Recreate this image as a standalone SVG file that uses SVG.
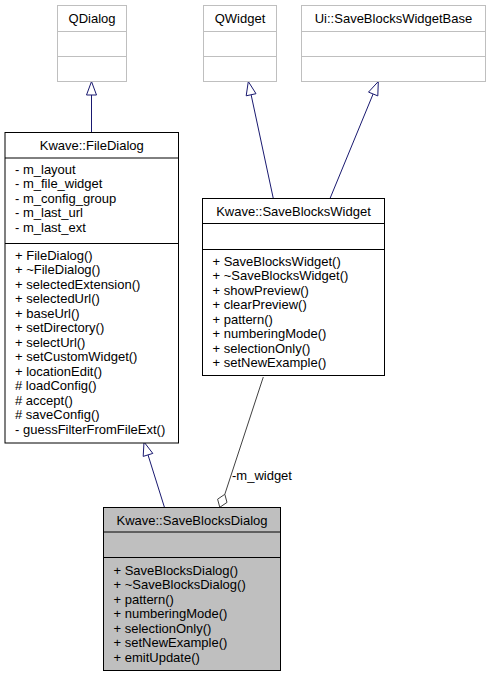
<svg xmlns="http://www.w3.org/2000/svg" width="491" height="677" viewBox="0 0 491 677">
<style>
text{font-family:"Liberation Sans",Arial,sans-serif;font-size:13px;fill:#000}
.t{text-anchor:middle}
.base{fill:#fff;stroke:#bfbfbf;stroke-width:1}
.cls{fill:#fff;stroke:#000;stroke-width:1}
.cur{fill:#bfbfbf;stroke:#000;stroke-width:1}
.inh{fill:none;stroke:#191970;stroke-width:1}
.inhhead{fill:#fff;stroke:#191970;stroke-width:1}
.agg{fill:none;stroke:#404040;stroke-width:1}
.agghead{fill:#fff;stroke:#404040;stroke-width:1}
</style>
<rect width="491" height="677" fill="#fff"/>
<g id="edges">
  <path class="inh" d="M91.5,132.5 L91.5,95"/>
  <polygon class="inhhead" points="91.5,81.5 86.5,95 96.5,95"/>
  <path class="inh" d="M273.3,198.5 L251.1,94.7"/>
  <polygon class="inhhead" points="248.3,81.5 256,93.7 246.2,95.8"/>
  <path class="inh" d="M330,198.5 L373.1,94"/>
  <polygon class="inhhead" points="378.3,81.5 377.8,95.9 368.5,92.1"/>
  <path class="inh" d="M164.5,507.5 L148,454.9"/>
  <polygon class="inhhead" points="144,442 152.8,453.4 143.2,456.4"/>
  <path class="agg" d="M263.3,377 L224.8,494.3"/>
  <polygon class="agghead" points="219.8,507.3 217.6,499.2 224.8,494.3 227,502.4"/>
  <text x="232" y="479.5">-m_widget</text>
</g>
<g id="QDialog">
  <rect class="base" x="57.5" y="5.5" width="69" height="76"/>
  <path class="base" d="M57.5,31.5 H126.5 M57.5,56.5 H126.5"/>
  <text class="t" x="92" y="23">QDialog</text>
</g>
<g id="QWidget">
  <rect class="base" x="203.5" y="5.5" width="73" height="76"/>
  <path class="base" d="M203.5,31.5 H276.5 M203.5,56.5 H276.5"/>
  <text class="t" x="240" y="23">QWidget</text>
</g>
<g id="SaveBlocksWidgetBase">
  <rect class="base" x="301.5" y="5.5" width="184" height="76"/>
  <path class="base" d="M301.5,31.5 H485.5 M301.5,56.5 H485.5"/>
  <text class="t" x="393.5" y="23">Ui::SaveBlocksWidgetBase</text>
</g>
<g id="FileDialog">
  <rect class="cls" x="5" y="132.5" width="173.5" height="310.5"/>
  <path class="cls" d="M5,158 H178.5 M5,243.5 H178.5"/>
  <text class="t" x="91.75" y="149.5">Kwave::FileDialog</text>
  <text x="15" y="173.5">- m_layout</text>
  <text x="15" y="188">- m_file_widget</text>
  <text x="15" y="202.5">- m_config_group</text>
  <text x="15" y="217">- m_last_url</text>
  <text x="15" y="231.5">- m_last_ext</text>
  <text x="15" y="259.5">+ FileDialog()</text>
  <text x="15" y="274">+ ~FileDialog()</text>
  <text x="15" y="288.5">+ selectedExtension()</text>
  <text x="15" y="303">+ selectedUrl()</text>
  <text x="15" y="317.5">+ baseUrl()</text>
  <text x="15" y="332">+ setDirectory()</text>
  <text x="15" y="346.5">+ selectUrl()</text>
  <text x="15" y="361">+ setCustomWidget()</text>
  <text x="15" y="375.5">+ locationEdit()</text>
  <text x="15" y="390"># loadConfig()</text>
  <text x="15" y="404.5"># accept()</text>
  <text x="15" y="419"># saveConfig()</text>
  <text x="15" y="433.5">- guessFilterFromFileExt()</text>
</g>
<g id="SaveBlocksWidget">
  <rect class="cls" x="202.5" y="198.5" width="182" height="177"/>
  <path class="cls" d="M202.5,223.5 H384.5 M202.5,249.5 H384.5"/>
  <text class="t" x="293.5" y="215.5">Kwave::SaveBlocksWidget</text>
  <text x="212.5" y="265.5">+ SaveBlocksWidget()</text>
  <text x="212.5" y="280">+ ~SaveBlocksWidget()</text>
  <text x="212.5" y="294.5">+ showPreview()</text>
  <text x="212.5" y="309">+ clearPreview()</text>
  <text x="212.5" y="323.5">+ pattern()</text>
  <text x="212.5" y="338">+ numberingMode()</text>
  <text x="212.5" y="352.5">+ selectionOnly()</text>
  <text x="212.5" y="367">+ setNewExample()</text>
</g>
<g id="SaveBlocksDialog">
  <rect class="cur" x="103.5" y="507.5" width="177" height="163"/>
  <path class="cur" d="M103.5,532 H280.5 M103.5,557.5 H280.5"/>
  <text class="t" x="192" y="524.5">Kwave::SaveBlocksDialog</text>
  <text x="113.5" y="574.5">+ SaveBlocksDialog()</text>
  <text x="113.5" y="589">+ ~SaveBlocksDialog()</text>
  <text x="113.5" y="603.5">+ pattern()</text>
  <text x="113.5" y="618">+ numberingMode()</text>
  <text x="113.5" y="632.5">+ selectionOnly()</text>
  <text x="113.5" y="647">+ setNewExample()</text>
  <text x="113.5" y="661.5">+ emitUpdate()</text>
</g>
</svg>
